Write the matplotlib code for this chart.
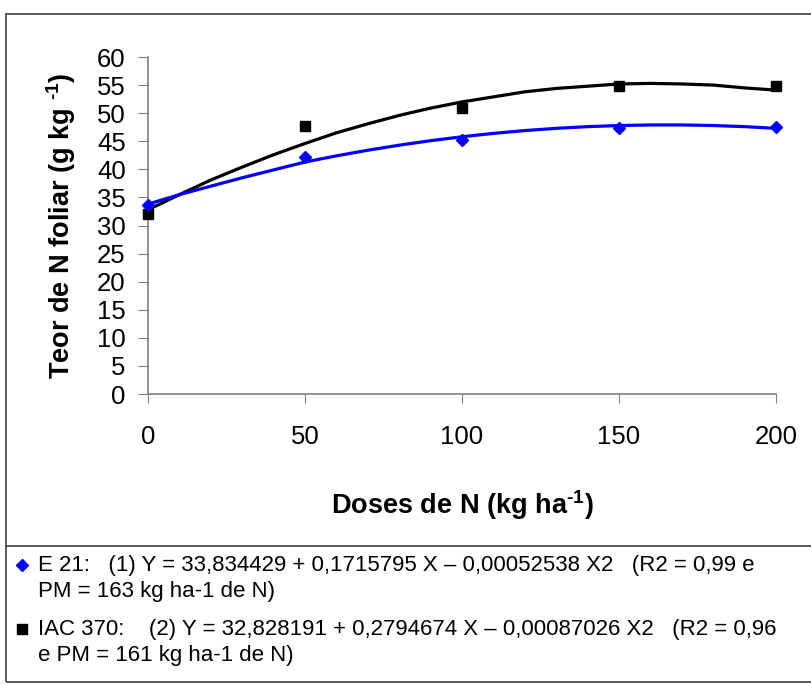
import matplotlib.pyplot as plt
from matplotlib.patches import Rectangle
from matplotlib.lines import Line2D

plt.rcParams['font.family'] = ['Liberation Sans', 'DejaVu Sans']
plt.rcParams['mathtext.fontset'] = 'custom'
plt.rcParams['mathtext.rm'] = 'Liberation Sans:bold'

# observed points
doses = [0, 50, 100, 150, 200]
e21_obs = [33.6, 42.2, 45.3, 47.4, 47.6]
iac_obs = [32.0, 47.8, 51.0, 54.8, 54.8]

# fitted curves
curve_x = [0, 10, 20, 30, 40, 50, 60, 70, 80, 90, 100,
           110, 120, 130, 140, 150, 160, 170, 180, 190, 200]
e21_fit = [33.8, 35.5, 37.0, 38.5, 39.9, 41.3, 42.4, 43.4, 44.3, 45.1, 45.8,
           46.4, 46.9, 47.3, 47.6, 47.8, 47.9, 47.9, 47.8, 47.6, 47.3]
iac_fit = [32.8, 35.5, 38.1, 40.4, 42.6, 44.6, 46.5, 48.1, 49.6, 50.9, 52.0,
           52.9, 53.8, 54.4, 54.8, 55.2, 55.3, 55.2, 55.0, 54.5, 54.1]

legend_lines = [
    "E 21:   (1) Y = 33,834429 + 0,1715795 X \u2013 0,00052538 X2   (R2 = 0,99 e",
    "PM = 163 kg ha-1 de N)",
    "IAC 370:    (2) Y = 32,828191 + 0,2794674 X \u2013 0,00087026 X2   (R2 = 0,96",
    "e PM = 161 kg ha-1 de N)",
]

fig = plt.figure(figsize=(8.12, 6.85), dpi=100)
ax = fig.add_axes([148 / 812, 1 - 394 / 685, 628 / 812, 337 / 685])

ax.plot(curve_x, iac_fit, color='black', lw=2.3, zorder=2)
ax.plot(curve_x, e21_fit, color='#0000ff', lw=2.3, zorder=2)
ax.plot(doses, iac_obs, 's', color='black', ms=7.5, zorder=3, clip_on=False)
ax.plot(doses, e21_obs, 'D', color='#0000ff', ms=6.5, zorder=3, clip_on=False)

ax.set_xlim(0, 200)
ax.set_ylim(0, 60)
ax.set_xticks(range(0, 201, 50))
ax.set_yticks(range(0, 61, 5))
for s in ['top', 'right']:
    ax.spines[s].set_visible(False)
for s in ['left', 'bottom']:
    ax.spines[s].set_color('#808080')
    ax.spines[s].set_linewidth(1.2)
ax.tick_params(axis='y', direction='out', length=7, color='#808080', labelsize=18.5, pad=9)
ax.tick_params(axis='x', direction='out', length=6.5, color='#808080', labelsize=18.5, pad=16)

ax.set_ylabel('Teor de N foliar (g kg $^{\\text{-1}}$)', fontsize=19.5, fontweight='bold', labelpad=14)
ax.set_xlabel('Doses de N (kg ha$^{\\text{-1}}$)', fontsize=19.5, fontweight='bold', labelpad=28)

# outer frame and legend box
fig.add_artist(Rectangle((6 / 812, 3 / 685), 820 / 812, 668 / 685, transform=fig.transFigure,
                         fill=False, edgecolor='#404040', lw=1.2))
fig.add_artist(Line2D([6 / 812, 1], [1 - 546 / 685] * 2, transform=fig.transFigure,
                      color='#404040', lw=1.2))

ys = [565, 592, 629, 656]
fig.add_artist(Line2D([22 / 812], [1 - ys[0] / 685], transform=fig.transFigure,
                      marker='D', color='#0000ff', ms=6, lw=0))
fig.add_artist(Line2D([22 / 812], [1 - ys[2] / 685], transform=fig.transFigure,
                      marker='s', color='black', ms=6.5, lw=0))
for txt, y in zip(legend_lines, ys):
    fig.text(38 / 812, 1 - y / 685, txt, fontsize=16, va='center', ha='left')

fig.savefig('out.png', dpi=100)
